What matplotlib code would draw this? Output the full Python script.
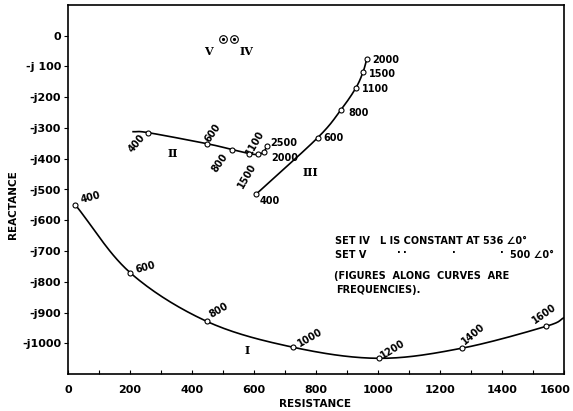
import numpy as np
import matplotlib
matplotlib.use("Agg")
import matplotlib.pyplot as plt
import matplotlib.transforms as mtransforms

# ---------------- data ----------------
curve_I_freq = [400, 600, 800, 1000, 1200, 1400, 1600]
curve_I_resistance = [23, 200, 448, 726, 1003, 1271, 1542]
curve_I_reactance = [-549, -770, -929, -1013, -1049, -1016, -945]
curve_I_end = (1600, -917)          # curve runs on to the frame

curve_II_freq = [400, 600, 800, 1100, 1500, 2000, 2500]
curve_II_resistance = [258, 448, 529, 584, 613, 632, 642]
curve_II_reactance = [-315, -351, -370, -383, -386, -377, -357]
curve_II_start = (210, -312)        # curve starts a little before 400

curve_III_freq = [400, 600, 800, 1100, 1500, 2000]
curve_III_resistance = [606, 806, 881, 929, 952, 964]
curve_III_reactance = [-516, -331, -240, -169, -117, -75]

set_IV = (536, -12)
set_V = (500, -12)

x_ticks = [0, 200, 400, 600, 800, 1000, 1200, 1400, 1600]
x_tick_labels = ["0", "200", "400", "600", "800", "1000", "1200", "1400", "1600"]
y_ticks = [0, -100, -200, -300, -400, -500, -600, -700, -800, -900, -1000]
y_tick_labels = ["0", "-j 100", "-j200", "-j300", "-j400", "-j500",
                 "-j600", "-j700", "-j800", "-j900", "-j1000"]

# ---------------- helpers ----------------
def smooth(xs, ys, n=30):
    P = np.column_stack([xs, ys]).astype(float)
    P = np.vstack([2 * P[0] - P[1], P, 2 * P[-1] - P[-2]])
    out = []
    t = np.linspace(0, 1, n)[:, None]
    for i in range(1, len(P) - 2):
        p0, p1, p2, p3 = P[i - 1], P[i], P[i + 1], P[i + 2]
        seg = 0.5 * ((2 * p1) + (-p0 + p2) * t + (2 * p0 - 5 * p1 + 4 * p2 - p3) * t ** 2
                     + (-p0 + 3 * p1 - 3 * p2 + p3) * t ** 3)
        out.append(seg if i == 1 else seg[1:])
    S = np.vstack(out)
    return S[:, 0], S[:, 1]

W, H = 573, 411
fig = plt.figure(figsize=(W / 100, H / 100), dpi=100)
ax = fig.add_axes([68 / W, 1 - 374 / H, (564 - 68) / W, (374 - 5) / H])
ax.set_xlim(0, 1600)
ax.set_ylim(-1100, 100)

lw = 1.2
mk = dict(marker="o", ms=3.6, mfc="white", mec="black", mew=0.8, ls="none", zorder=4)

# curve I
cx = curve_I_resistance + [curve_I_end[0]]
cy = curve_I_reactance + [curve_I_end[1]]
sx, sy = smooth(cx, cy)
ax.plot(sx, sy, color="black", lw=lw, zorder=3)
ax.plot(curve_I_resistance, curve_I_reactance, **mk)

# curve II
cx = [curve_II_start[0]] + curve_II_resistance
cy = [curve_II_start[1]] + curve_II_reactance
sx, sy = smooth(cx, cy)
ax.plot(sx, sy, color="black", lw=lw, zorder=3)
ax.plot(curve_II_resistance, curve_II_reactance, **mk)

# curve III
sx, sy = smooth(curve_III_resistance, curve_III_reactance)
ax.plot(sx, sy, color="black", lw=lw, zorder=3)
ax.plot(curve_III_resistance, curve_III_reactance, **mk)

# sets IV and V
for p in (set_IV, set_V):
    ax.plot([p[0]], [p[1]], marker="o", ms=5.5, mfc="white", mec="black", mew=0.8, zorder=4)
    ax.plot([p[0]], [p[1]], marker="o", ms=1.3, mfc="black", mec="black", zorder=5)

lab = dict(fontsize=7, fontweight="bold", color="black")

# frequency labels: offsets in pixels, rotations
off_I = [(15, 7, 15), (15, 5, 15), (12, 11, 30), (17, 10, 30), (14, 9, 32), (11, 14, 40), (-2, 13, 35)]
for f, x, y, (dx, dy, r) in zip(curve_I_freq, curve_I_resistance, curve_I_reactance, off_I):
    ax.annotate(str(f), (x, y), xytext=(dx, dy), textcoords="offset pixels",
                ha="center", va="center", rotation=r, rotation_mode="anchor", **lab)

off_II = [(-11, -11, 50, "center"), (6, 11, 55, "center"), (-12, -13, 55, "center"),
          (6, 11, 60, "center"), (-11, -21, 60, "center"), (7, -6, 0, "left"), (3, 3, 0, "left")]
for f, x, y, (dx, dy, r, ha) in zip(curve_II_freq, curve_II_resistance, curve_II_reactance, off_II):
    ax.annotate(str(f), (x, y), xytext=(dx, dy), textcoords="offset pixels",
                ha=ha, va="center", rotation=r, rotation_mode="anchor", **lab)

off_III = [(4, -7), (6, 0), (7, -3), (6, -1), (6, -2), (5, -1)]
for f, x, y, (dx, dy) in zip(curve_III_freq, curve_III_resistance, curve_III_reactance, off_III):
    ax.annotate(str(f), (x, y), xytext=(dx, dy), textcoords="offset pixels",
                ha="left", va="center", **lab)

# roman numerals
rom = dict(fontsize=8, fontweight="bold", family="DejaVu Serif", ha="center", va="center")
ax.text(577, -1023, "I", **rom)
ax.text(339, -383, "II", **rom)
ax.text(781, -445, "III", **rom)
ax.text(452, -52, "V", **rom)
ax.text(577, -52, "IV", **rom)

# note text
def fpx(px, py):
    return px / W, 1 - py / H

note = dict(fontsize=7, fontweight="bold", va="center", ha="left")
fig.text(*fpx(335, 241), "SET IV   L IS CONSTANT AT 536 \u22200\u00b0", **note)
fig.text(*fpx(335, 255), "SET V", **note)
for px in (397, 403, 452, 500):
    fig.text(*fpx(px, 253), "\u00b7", **note)
fig.text(*fpx(510, 255), "500 \u22200\u00b0", **note)
fig.text(*fpx(334, 276), "(FIGURES  ALONG  CURVES  ARE", **note)
fig.text(*fpx(336, 290), "FREQUENCIES).", **note)

# axes styling
ax.set_xticks(x_ticks)
ax.set_xticklabels(x_tick_labels)
ax.set_xticks(np.arange(0, 1601, 100), minor=True)
ax.set_yticks(y_ticks)
ax.set_yticklabels(y_tick_labels)
ax.tick_params(axis="x", which="both", direction="in", length=3, width=0.8, pad=8,
               labelsize=8)
ax.tick_params(axis="y", direction="out", length=3, width=0.8, pad=2, labelsize=8)
for t in ax.get_xticklabels() + ax.get_yticklabels():
    t.set_fontweight("bold")
last = ax.get_xticklabels()[-1]
last.set_transform(last.get_transform() +
                   mtransforms.ScaledTranslation(-9 / 100, 0, fig.dpi_scale_trans))
for s in ax.spines.values():
    s.set_linewidth(1.2)

fig.text(*fpx(315, 404), "RESISTANCE", fontsize=7.5, fontweight="bold", ha="center", va="center")
fig.text(*fpx(13, 205), "REACTANCE", fontsize=7.5, fontweight="bold", ha="center", va="center",
         rotation=90)

fig.savefig("out.png", dpi=100)
